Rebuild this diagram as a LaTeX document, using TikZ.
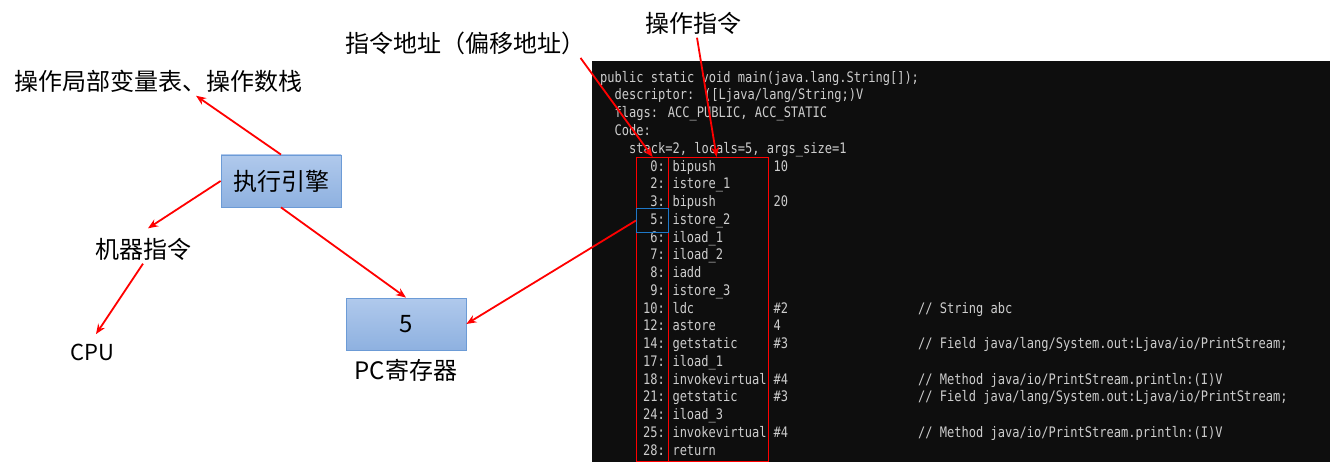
\documentclass[tikz,border=0pt]{standalone}
\usepackage{fontspec}
\newfontfamily\cjk{Noto Sans CJK SC}
\newfontfamily\termfont[FakeStretch=0.83]{DejaVu Sans Mono}
\usetikzlibrary{arrows.meta}
\definecolor{boxtop}{RGB}{176,201,236}
\definecolor{boxbot}{RGB}{142,177,224}
\definecolor{boxedge}{RGB}{108,155,214}
\definecolor{termbg}{RGB}{14,14,14}
\definecolor{termgray}{RGB}{205,205,205}
\definecolor{curblue}{RGB}{30,120,200}
\begin{document}
\begin{tikzpicture}
        [x=1pt, y=-1pt,
        Tag/.style={font=\cjk\fontsize{24pt}{28pt}\selectfont},
        SmallTag/.style={font=\cjk\fontsize{22pt}{26pt}\selectfont},
        EngBox/.style={rectangle, draw=boxedge, thick, top color=boxtop, bottom color=boxbot, minimum width=120pt, minimum height=52pt, font=\cjk\fontsize{24pt}{28pt}\selectfont},
        Term/.style={text=termgray, inner sep=0pt, font=\termfont\fontsize{14.5pt}{17pt}\selectfont},
        ColBox/.style={rectangle, draw=red, line width=1.2pt, anchor=north west, inner sep=0pt},
        RedArrow/.style={draw=red, line width=1.8pt, -{Stealth[length=10pt,width=8pt]}},
        ]

        \useasboundingbox (0,0) rectangle (1330,462);
        \fill[termbg] (592,61) rectangle (1330,462);

        \node[Tag] (locals) at (158,81) {操作局部变量表、操作数栈};
        \node[EngBox] (engine) at (281,181) {执行引擎};
        \node[Tag] (instr) at (143,249) {机器指令};
        \node[SmallTag] (cpu) at (92,352) {CPU};
        \node[EngBox] (pcbox) at (406,324) {5};
        \node[Tag] (pclbl) at (406,370) {PC寄存器};
        \node[Tag] (addrlbl) at (465,43) {指令地址（偏移地址）};
        \node[Tag] (oplbl) at (693,23) {操作指令};

\node[Term, anchor=mid west] (h1) at (600,80) {public static void main(java.lang.String[]);};
\node[Term, anchor=mid west] (h2) at (614.5,97.75) {descriptor: ([Ljava/lang/String;)V};
\node[Term, anchor=mid west] (h3) at (614.5,115.5) {flags: ACC\_PUBLIC, ACC\_STATIC};
\node[Term, anchor=mid west] (h4) at (614.5,133.25) {Code:};
\node[Term, anchor=mid west] (h5) at (629,151) {stack=2, locals=5, args\_size=1};

\foreach \n/\a/\op/\arg in {0/0/bipush/10, 1/2/istore\_1/{}, 2/3/bipush/20, 3/5/istore\_2/{},
    4/6/iload\_1/{}, 5/7/iload\_2/{}, 6/8/iadd/{}, 7/9/istore\_3/{}, 8/10/ldc/\#2, 9/12/astore/4,
    10/14/getstatic/\#3, 11/17/iload\_1/{}, 12/18/invokevirtual/\#4, 13/21/getstatic/\#3,
    14/24/iload\_3/{}, 15/25/invokevirtual/\#4, 16/28/return/{}}
{
    \node[Term, anchor=mid east] (a\n) at (665,169+17.75*\n) {\a:};
    \node[Term, anchor=mid west] (o\n) at (672.3,169+17.75*\n) {\op};
    \node[Term, anchor=mid west] (g\n) at (773.5,169+17.75*\n) {\arg};
}

\node[Term, anchor=mid west] (c8) at (918,311) {// String abc};
\node[Term, anchor=mid west] (c10) at (918,346.5) {// Field java/lang/System.out:Ljava/io/PrintStream;};
\node[Term, anchor=mid west] (c12) at (918,382) {// Method java/io/PrintStream.println:(I)V};
\node[Term, anchor=mid west] (c13) at (918,399.75) {// Field java/lang/System.out:Ljava/io/PrintStream;};
\node[Term, anchor=mid west] (c15) at (918,435.25) {// Method java/io/PrintStream.println:(I)V};

\node[ColBox, minimum width=32pt, minimum height=304pt] (addrcol) at (636,157) {};
\node[ColBox, minimum width=100pt, minimum height=304pt] (opcol) at (668,157) {};
\node[ColBox, draw=curblue, line width=1pt, minimum width=32pt, minimum height=24pt] (cur) at (636,208) {};

\draw [RedArrow] (engine.north) to ([xshift=38pt]locals.south);
\draw [RedArrow] (engine.west) to ([xshift=5pt,yshift=6pt]instr.north);
\draw [RedArrow] (instr.south) to ([xshift=4pt,yshift=6pt]cpu.north);
\draw [RedArrow] (engine.south) to (pcbox.north);
\draw [RedArrow] (cur.west) to (pcbox.east);
\draw [RedArrow] ([xshift=-8pt]addrlbl.south east) to (addrcol.north);
\draw [RedArrow] ([xshift=4pt]oplbl.south) to ([xshift=-2pt]opcol.north);

    \end{tikzpicture}
\end{document}
